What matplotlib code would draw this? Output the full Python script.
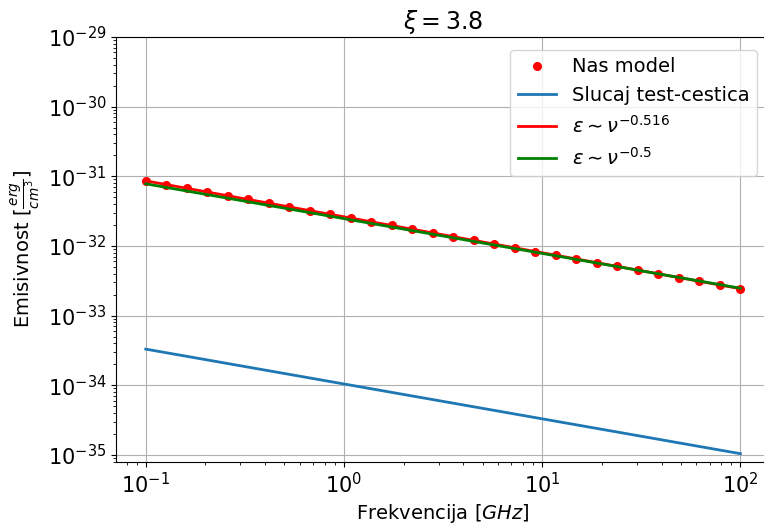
import numpy as np
import matplotlib.pyplot as plt

# frekvencije [GHz] i emisivnost modela
freq = [0.1, 0.1269, 0.1610, 0.2043, 0.2593, 0.3290, 0.4175, 0.5298, 0.6723, 0.8532,
        1.0826, 1.3738, 1.7433, 2.2122, 2.8072, 3.5622, 4.5204, 5.7362, 7.2790, 9.2367,
        11.721, 14.874, 18.874, 23.950, 30.392, 38.566, 48.939, 62.102, 78.805, 100.0]
model = [8.60e-32, 7.61e-32, 6.73e-32, 5.95e-32, 5.26e-32, 4.65e-32, 4.11e-32, 3.64e-32,
         3.22e-32, 2.85e-32, 2.52e-32, 2.23e-32, 1.97e-32, 1.74e-32, 1.54e-32, 1.36e-32,
         1.20e-32, 1.06e-32, 9.39e-33, 8.30e-33, 7.34e-33, 6.49e-33, 5.74e-33, 5.08e-33,
         4.49e-33, 3.97e-33, 3.51e-33, 3.11e-33, 2.75e-33, 2.43e-33]

# krajnje tacke pravih
line_freq = [0.1, 100.0]
test_particle = [3.3e-34, 1.04e-35]
fit_0516 = [8.6e-32, 2.43e-33]
fit_05 = [7.8e-32, 2.47e-33]

fig = plt.figure(figsize=(7.64, 5.30), dpi=100)
ax = fig.add_axes([116/764, 68/530, (770-116)/764, (493-68)/530])

ax.plot(freq, model, 'o', color='red', markersize=5.5, label='Nas model')
ax.plot(line_freq, test_particle, color='tab:blue', lw=2, label='Slucaj test-cestica')
ax.plot(line_freq, fit_0516, color='red', lw=2, label=r'$\varepsilon \sim \nu^{-0.516}$')
ax.plot(line_freq, fit_05, color='green', lw=2, label=r'$\varepsilon \sim \nu^{-0.5}$')

ax.set_xscale('log')
ax.set_yscale('log')
ax.set_xlim(0.0708, 141)
ax.set_ylim(7.9e-36, 1e-29)
ax.grid(True)
ax.tick_params(labelsize=15)
ax.set_xlabel(r'Frekvencija [$GHz$]', fontsize=14)
ax.set_ylabel(r'Emisivnost [$\frac{erg}{cm^3}$]', fontsize=14)
ax.set_title(r'$\xi = 3.8$', fontsize=17)
ax.legend(loc='upper right', fontsize=14, borderaxespad=0.65)

fig.savefig('out.png', dpi=100)
